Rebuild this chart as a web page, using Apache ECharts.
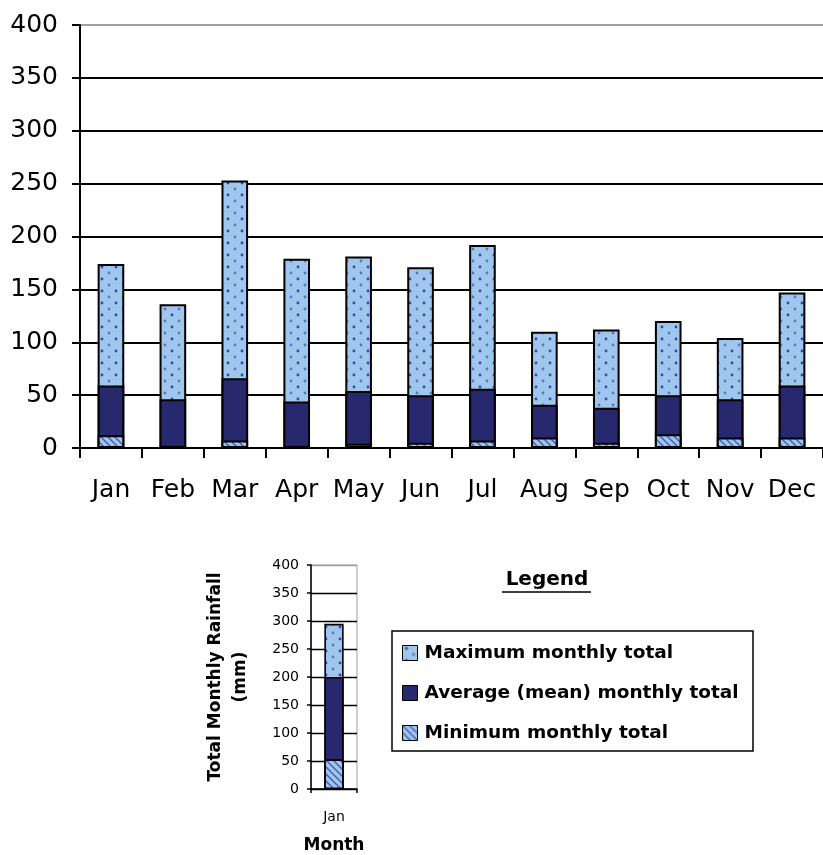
<!DOCTYPE html>
<html>
<head>
<meta charset="utf-8">
<title>Total Monthly Rainfall</title>
<script src="https://cdn.jsdelivr.net/npm/echarts@6/dist/echarts.min.js"></script>
<style>
  html, body { margin: 0; padding: 0; background: #fff; }
  #chart { width: 823px; height: 855px; }
</style>
</head>
<body>
<div id="chart"></div>
<script>
// Monthly rainfall record (mm)
const months = ['Jan', 'Feb', 'Mar', 'Apr', 'May', 'Jun', 'Jul', 'Aug', 'Sep', 'Oct', 'Nov', 'Dec'];
const maxTotals  = [174, 136, 253, 179, 181, 171, 192, 110, 112, 120, 104, 147];
const meanTotals = [59, 46, 66, 44, 54, 50, 56, 41, 38, 50, 46, 59];
const minTotals  = [12, 2, 7, 2, 4, 5, 7, 10, 5, 13, 10, 10];

// Key chart: one example month
const keyMonth = ['Jan'];
const keyMax  = [295];
const keyMean = [200];
const keyMin  = [53];

const seriesNames = ['Maximum monthly total', 'Average (mean) monthly total', 'Minimum monthly total'];

const FONT = 'DejaVu Sans';
const LIGHT = '#9fc6ec';
const NAVY = '#28286e';

// Dotted fill for the maximum bars
function dotPattern() {
  const c = document.createElement('canvas');
  c.width = 14; c.height = 12;
  const g = c.getContext('2d');
  g.fillStyle = LIGHT; g.fillRect(0, 0, 14, 12);
  g.fillStyle = '#3448a8';
  g.beginPath(); g.arc(4, 3, 1.4, 0, Math.PI * 2); g.fill();
  g.fillStyle = '#5c74c2';
  g.beginPath(); g.arc(11, 9, 1.4, 0, Math.PI * 2); g.fill();
  return { image: c, repeat: 'repeat' };
}

// Diagonal hatch for the minimum bars
function hatchPattern() {
  const s = 7;
  const c = document.createElement('canvas');
  c.width = s; c.height = s;
  const g = c.getContext('2d');
  g.fillStyle = LIGHT; g.fillRect(0, 0, s, s);
  g.strokeStyle = '#3f5cb6'; g.lineWidth = 1.4;
  g.beginPath();
  g.moveTo(-1, -1); g.lineTo(s + 1, s + 1);
  g.moveTo(-2, s - 2); g.lineTo(2, s + 2);
  g.moveTo(s - 2, -2); g.lineTo(s + 2, 2);
  g.stroke();
  return { image: c, repeat: 'repeat' };
}

const fills = [dotPattern(), NAVY, hatchPattern()];

function barSeries(axisIndex, valuesList, bw, border) {
  return valuesList.map((vals, i) => ({
    name: seriesNames[i],
    type: 'bar',
    xAxisIndex: axisIndex,
    yAxisIndex: axisIndex,
    data: vals,
    barWidth: bw,
    barGap: '-100%',
    silent: true,
    itemStyle: { color: fills[i], borderColor: '#000', borderWidth: border },
    emphasis: { disabled: true }
  }));
}

const gridColors = ['#000', '#000', '#000', '#000', '#000', '#000', '#000', '#000', '#a0a0a0'];

const chart = echarts.init(document.getElementById('chart'), null, { renderer: 'canvas' });

chart.setOption({
  animation: false,
  backgroundColor: '#fff',
  textStyle: { fontFamily: FONT, color: '#000' },
  grid: [
    { left: 80, top: 25, width: 744, height: 423 },
    { left: 311, top: 565, width: 46, height: 225, show: true, borderColor: '#a0a0a0', borderWidth: 1 }
  ],
  xAxis: [
    {
      gridIndex: 0, type: 'category', data: months, boundaryGap: true,
      axisLine: { lineStyle: { color: '#000', width: 2 } },
      axisTick: { show: true, interval: 0, length: 10, lineStyle: { color: '#000', width: 2 } },
      axisLabel: { interval: 0, fontFamily: FONT, fontSize: 25, color: '#000', margin: 30 }
    },
    {
      gridIndex: 1, type: 'category', data: keyMonth, boundaryGap: true,
      axisLine: { lineStyle: { color: '#000', width: 1.5 } },
      axisTick: { show: true, length: 4, lineStyle: { color: '#000', width: 1.5 } },
      axisLabel: { fontFamily: FONT, fontSize: 14, color: '#000', margin: 21 },
      name: 'Month', nameLocation: 'middle', nameGap: 48,
      nameTextStyle: { fontFamily: FONT, fontWeight: 'bold', fontSize: 17, color: '#000' }
    }
  ],
  yAxis: [
    {
      gridIndex: 0, type: 'value', min: 0, max: 400, interval: 50,
      axisLine: { show: true, lineStyle: { color: '#000', width: 2 } },
      axisTick: { show: true, length: 8, lineStyle: { color: '#000', width: 2 } },
      splitLine: { show: true, lineStyle: { color: gridColors, width: 1.8 } },
      axisLabel: { fontFamily: FONT, fontSize: 25, color: '#000', margin: 22 }
    },
    {
      gridIndex: 1, type: 'value', min: 0, max: 400, interval: 50,
      axisLine: { show: true, lineStyle: { color: '#000', width: 1.5 } },
      axisTick: { show: true, length: 4, lineStyle: { color: '#000', width: 1.5 } },
      splitLine: { show: true, lineStyle: { color: gridColors, width: 1.3 } },
      axisLabel: { fontFamily: FONT, fontSize: 14, color: '#000', margin: 12 },
      name: 'Total Monthly Rainfall\n(mm)', nameLocation: 'middle', nameRotate: 90, nameGap: 58,
      nameTextStyle: { fontFamily: FONT, fontWeight: 'bold', fontSize: 17, lineHeight: 25, color: '#000' }
    }
  ],
  legend: {
    orient: 'vertical',
    left: 402, top: 643,
    padding: 0,
    itemWidth: 15, itemHeight: 15, itemGap: 20,
    selectedMode: false,
    icon: 'rect',
    data: seriesNames,
    itemStyle: { borderColor: '#000', borderWidth: 1 },
    textStyle: { fontFamily: FONT, fontWeight: 'bold', fontSize: 18.5, lineHeight: 20, color: '#000', padding: [0, 0, 0, 2] }
  },
  graphic: [
    {
      type: 'rect', silent: true,
      shape: { x: 392, y: 631, width: 361, height: 120 },
      style: { fill: 'none', stroke: '#000', lineWidth: 1.5 }
    },
    {
      type: 'text', silent: true, x: 547, y: 580,
      style: { text: 'Legend', fontFamily: FONT, fontWeight: 'bold', fontSize: 20, fill: '#000', align: 'center', verticalAlign: 'middle' }
    },
    {
      type: 'line', silent: true,
      shape: { x1: 502, y1: 592, x2: 591, y2: 592 },
      style: { stroke: '#000', lineWidth: 1.5 }
    }
  ],
  series: [
    ...barSeries(0, [maxTotals, meanTotals, minTotals], '43%', 2),
    ...barSeries(1, [keyMax, keyMean, keyMin], '42%', 1.6)
  ]
});
</script>
</body>
</html>
